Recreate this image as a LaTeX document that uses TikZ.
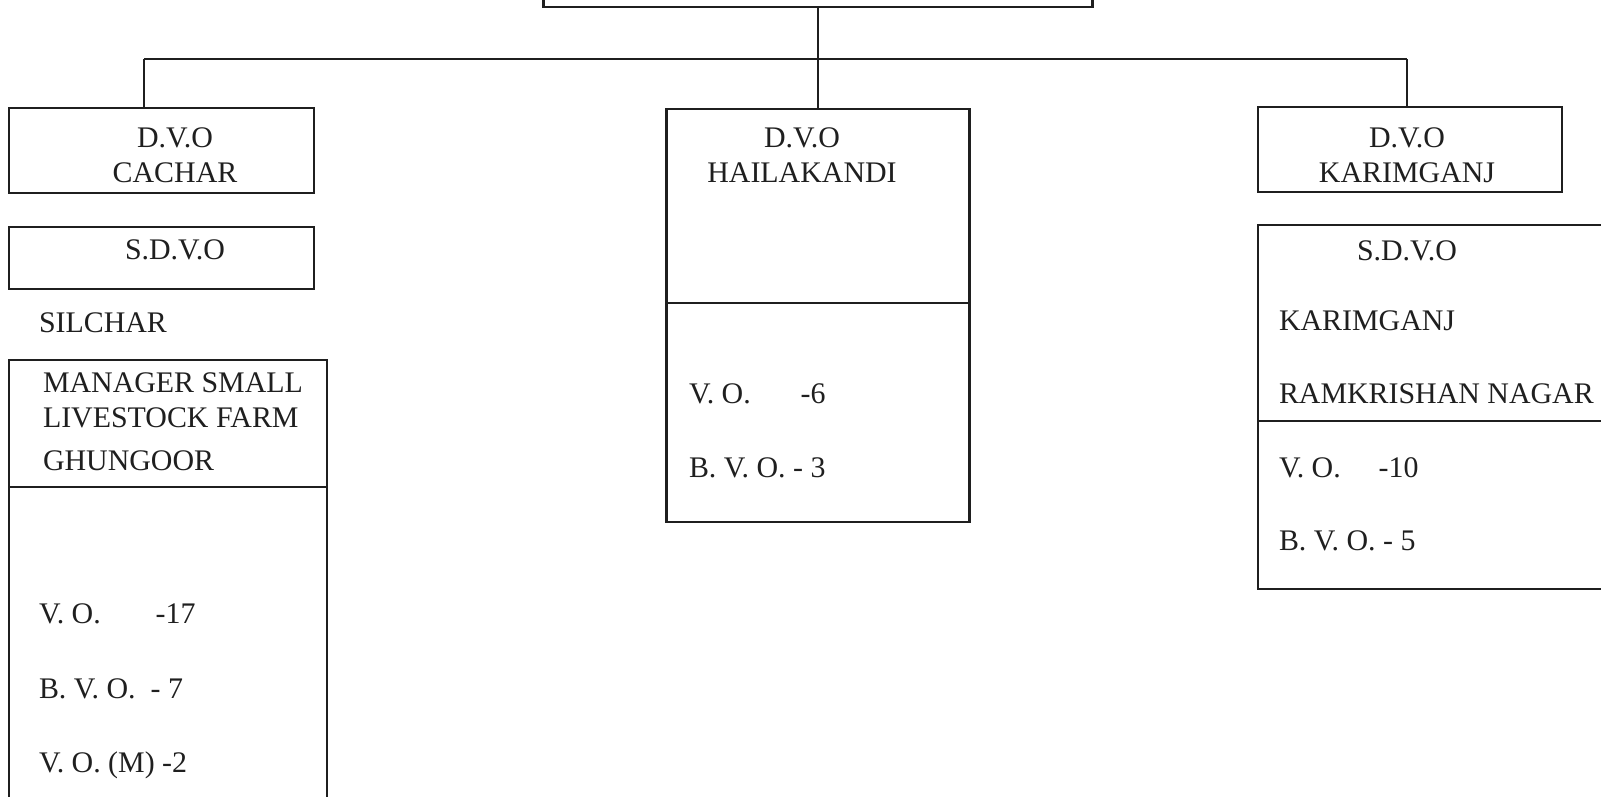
\documentclass[tikz,border=0pt]{standalone}
\usepackage{fontspec}
\setmainfont{Liberation Serif}
\begin{document}
\begin{tikzpicture}[x=1pt,y=-1pt,
  boxstyle/.style={draw=black!88, line width=2.3pt, rectangle, inner sep=0pt, outer sep=0pt, anchor=north west},
  lbl/.style={text=black!88, inner sep=0pt, outer sep=0pt, font=\fontsize{29.9}{35}\selectfont},
  lblc/.style={lbl, anchor=base},
  lbll/.style={lbl, anchor=base west},
  conn/.style={draw=black!88, line width=2.1pt}]
\useasboundingbox (0,0) rectangle (1601,796);
\clip (0,0) rectangle (1601,796);
% boxes
\node[boxstyle, minimum width=549pt, minimum height=40pt] (top) at (543.5,-33) {};
\node[boxstyle, minimum width=305pt, minimum height=85pt] (cdvo) at (9,108) {};
\node[boxstyle, minimum width=305pt, minimum height=62pt] (csdvo) at (9,227) {};
\node[boxstyle, minimum width=318pt, minimum height=480pt] (cman) at (9,360) {};
\node[boxstyle, minimum width=303pt, minimum height=413pt] (hail) at (666.5,109) {};
\node[boxstyle, minimum width=304pt, minimum height=85pt] (kdvo) at (1258,107) {};
\node[boxstyle, minimum width=400pt, minimum height=364pt] (ksdvo) at (1258,225) {};
% dividers
\coordinate (cdivy) at (0,487);
\coordinate (hdivy) at (0,303);
\coordinate (kdivy) at (0,421);
\draw[conn, line width=2.3pt] (cman.west |- cdivy) -- (cman.east |- cdivy);
\draw[conn, line width=2.3pt] (hail.west |- hdivy) -- (hail.east |- hdivy);
\draw[conn, line width=2.3pt] (ksdvo.west |- kdivy) -- (ksdvo.east |- kdivy);
% connectors
\coordinate (busL) at (144,59);
\coordinate (busR) at (1407,59);
\draw[conn] (top.south -| hail.north) -- (hail.north);
\draw[conn] (busL) -- (busR);
\draw[conn] (busL) -- (busL |- cdvo.north);
\draw[conn] (busR) -- (busR |- kdvo.north);
% Cachar texts
\node[lblc] (t1) at (175,147) {D.V.O};
\node[lblc] (t2) at (175,182) {CACHAR};
\node[lblc] (t3) at (175,259) {S.D.V.O};
\node[lbll] (t4) at (39,332) {SILCHAR};
\node[lbll] (t5) at (43,392) {MANAGER SMALL};
\node[lbll] (t6) at (43,427) {LIVESTOCK FARM};
\node[lbll] (t7) at (43,470) {GHUNGOOR};
\node[lbll] (t8) at (39,623) {V. O.\hspace{55pt}-17};
\node[lbll] (t9) at (39,698) {B. V. O.\ \ - 7};
\node[lbll] (t10) at (39,772) {V. O. (M) -2};
% Hailakandi texts
\node[lblc] (h1) at (802,147) {D.V.O};
\node[lblc] (h2) at (802,182) {HAILAKANDI};
\node[lbll] (h3) at (689,403) {V. O.\hspace{50pt}-6};
\node[lbll] (h4) at (689,477) {B. V. O. - 3};
% Karimganj texts
\node[lblc] (k1) at (1407,147) {D.V.O};
\node[lblc] (k2) at (1407,182) {KARIMGANJ};
\node[lblc] (k3) at (1407,260) {S.D.V.O};
\node[lbll] (k4) at (1279,330) {KARIMGANJ};
\node[lbll] (k5) at (1279,403) {RAMKRISHAN NAGAR};
\node[lbll] (k6) at (1279,477) {V. O.\hspace{38pt}-10};
\node[lbll] (k7) at (1279,550) {B. V. O. - 5};
\end{tikzpicture}
\end{document}
